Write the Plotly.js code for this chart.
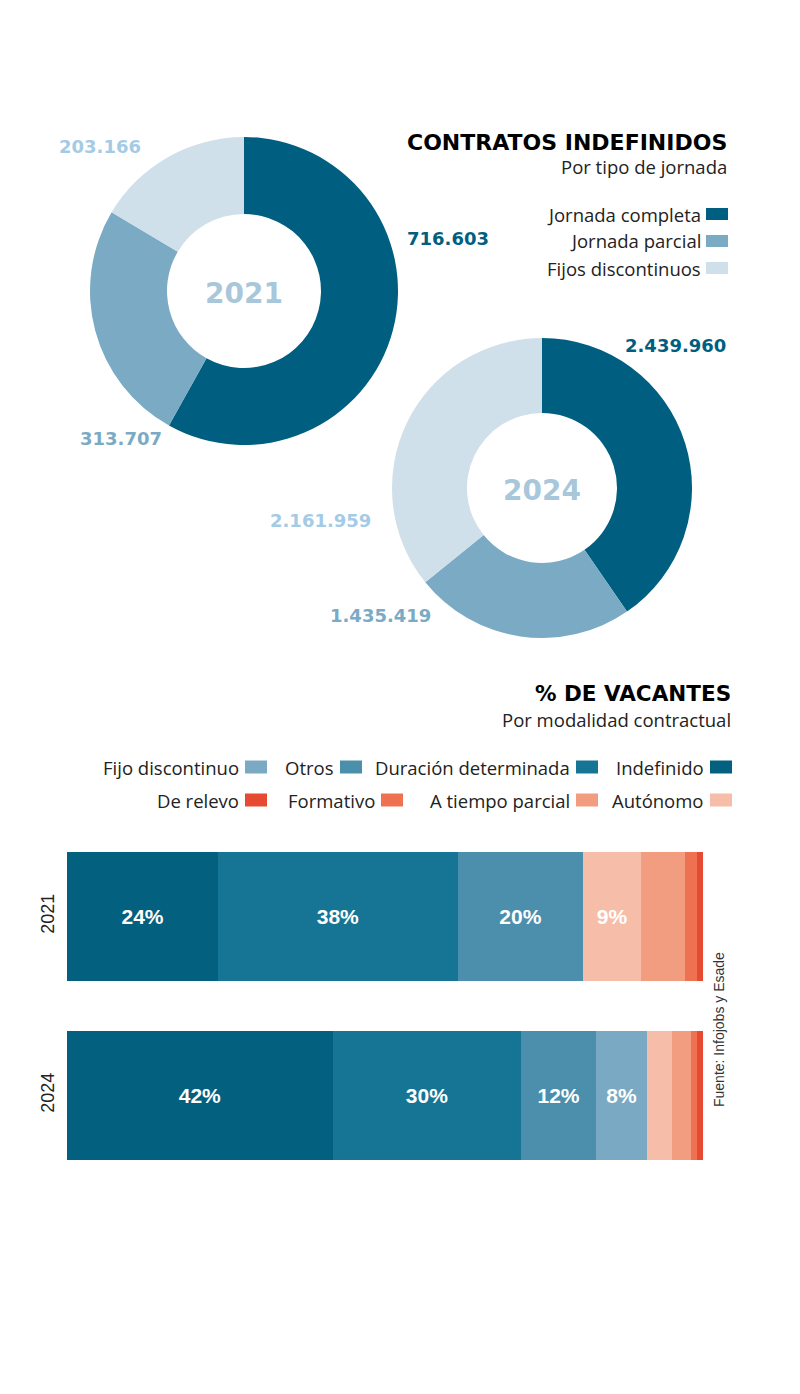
<!DOCTYPE html>
<html>
<head>
<meta charset="utf-8">
<script src="https://cdn.plot.ly/plotly-3.0.1.min.js"></script>
<style>html,body{margin:0;padding:0;background:#fff;}#chart{width:800px;height:1394px;}</style>
</head>
<body>
<div id="chart"></div>
<script>
// ---------- DATA ----------
const jornadaLabels = ['Jornada completa', 'Jornada parcial', 'Fijos discontinuos'];
const contratos2021 = [716603, 313707, 203166];
const contratos2024 = [2439960, 1435419, 2161959];

const years = ['2021', '2024'];
const modalidades = ['Indefinido', 'Duración determinada', 'Otros', 'Fijo discontinuo', 'Autónomo', 'A tiempo parcial', 'Formativo', 'De relevo'];
const pctIndefinido = [23.8, 41.8];
const pctDuracion = [37.6, 29.6];
const pctOtros = [19.8, 11.8];
const pctFijo = [0, 8.0];
const pctAutonomo = [9.0, 3.9];
const pctParcial = [6.9, 3.0];
const pctFormativo = [2.0, 0.9];
const pctRelevo = [0.9, 1.0];
const vacantes = [pctIndefinido, pctDuracion, pctOtros, pctFijo, pctAutonomo, pctParcial, pctFormativo, pctRelevo];

const legendRow1 = ['Fijo discontinuo', 'Otros', 'Duración determinada', 'Indefinido'];
const legendRow2 = ['De relevo', 'Formativo', 'A tiempo parcial', 'Autónomo'];

// ---------- STYLE ----------
const W = 800, H = 1394;
const px = x => x / W;
const py = y => 1 - y / H;
const jornadaColors = ['#005f80', '#7aaac4', '#cfe0ea'];
const labelColors = ['#005f80', '#7aaac4', '#a4cbe6'];
const modColors = {
  'Indefinido': '#03607f', 'Duración determinada': '#167594', 'Otros': '#4b8fad',
  'Fijo discontinuo': '#7aaac3', 'Autónomo': '#f6bea9', 'A tiempo parcial': '#f29c80',
  'Formativo': '#ee7252', 'De relevo': '#e64a33'
};
const boldFont = 'DejaVu Sans, sans-serif';
const textFont = 'Open Sans, sans-serif';
const textSize = 18.5;
const fmt = v => String(v).replace(/\B(?=(\d{3})+(?!\d))/g, '.');

// ---------- TRACES ----------
const traces = [];
function pie(values, year, dom) {
  return {
    type: 'pie', values: values, labels: jornadaLabels, sort: false,
    direction: 'clockwise', rotation: 0, hole: 0.5,
    marker: { colors: jornadaColors, line: { width: 0 } },
    textinfo: 'none', hoverinfo: 'none', showlegend: false,
    domain: dom,
    title: { text: year, position: 'middle center', font: { family: boldFont, size: 28, color: '#a9c7da', weight: 'bold' } }
  };
}
traces.push(pie(contratos2021, '2021', { x: [px(90), px(398)], y: [py(445), py(137)] }));
traces.push(pie(contratos2024, '2024', { x: [px(392), px(692)], y: [py(638), py(338)] }));

modalidades.forEach((m, i) => {
  const vals = vacantes[i];
  traces.push({
    type: 'bar', orientation: 'h', y: years, x: vals, name: m,
    marker: { color: modColors[m], line: { width: 0 } },
    text: vals.map(v => v >= 7.95 ? Math.round(v) + '%' : ''),
    textposition: 'inside', insidetextanchor: 'middle', constraintext: 'none',
    textfont: { family: 'Liberation Sans, Arial, sans-serif', size: 21, color: '#ffffff', weight: 'bold' },
    hoverinfo: 'none', showlegend: false, xaxis: 'x', yaxis: 'y'
  });
});

// ---------- ANNOTATIONS & SHAPES ----------
const annotations = [];
const shapes = [];
function txt(text, x, y, anchor, font) {
  annotations.push({ text: text, x: px(x), y: py(y), xref: 'paper', yref: 'paper', xanchor: anchor, yanchor: 'middle', showarrow: false, font: font });
}
// titles
txt('CONTRATOS INDEFINIDOS', 729, 143, 'right', { family: boldFont, size: 22, color: '#000', weight: 'bold' });
txt('Por tipo de jornada', 729, 167, 'right', { family: textFont, size: textSize, color: '#222' });
txt('% DE VACANTES', 733, 694, 'right', { family: boldFont, size: 21.5, color: '#000', weight: 'bold' });
txt('Por modalidad contractual', 733, 719, 'right', { family: textFont, size: textSize, color: '#222' });

// pie value labels
const pieLabelPos2021 = [[405, 239, 'left'], [78, 438, 'left'], [143, 146, 'right']];
const pieLabelPos2024 = [[728, 346, 'right'], [433, 615, 'right'], [373, 520, 'right']];
contratos2021.forEach((v, i) => txt(fmt(v), pieLabelPos2021[i][0], pieLabelPos2021[i][1], pieLabelPos2021[i][2], { family: boldFont, size: 18, color: labelColors[i], weight: 'bold' }));
contratos2024.forEach((v, i) => txt(fmt(v), pieLabelPos2024[i][0], pieLabelPos2024[i][1], pieLabelPos2024[i][2], { family: boldFont, size: 18, color: labelColors[i], weight: 'bold' }));

// pie legend
const pieLegendY = [214, 241, 268];
jornadaLabels.forEach((l, i) => {
  txt(l, 703, pieLegendY[i], 'right', { family: textFont, size: textSize, color: '#222' });
  shapes.push({ type: 'rect', xref: 'paper', yref: 'paper', x0: px(706), x1: px(728), y0: py(pieLegendY[i] + 6), y1: py(pieLegendY[i] - 6), fillcolor: jornadaColors[i], line: { width: 0 } });
});

// bar legend
const legendSwatchX = [[245, 340, 576, 710], [245, 381, 576, 710]];
[legendRow1, legendRow2].forEach((row, r) => {
  const y = r === 0 ? 767 : 800;
  row.forEach((l, i) => {
    const sx = legendSwatchX[r][i];
    txt(l, sx - 4, y, 'right', { family: textFont, size: textSize, color: '#222' });
    shapes.push({ type: 'rect', xref: 'paper', yref: 'paper', x0: px(sx), x1: px(sx + 22), y0: py(y + 6.5), y1: py(y - 6.5), fillcolor: modColors[l], line: { width: 0 } });
  });
});

// source
annotations.push({ text: 'Fuente: Infojobs y Esade', x: px(719), y: py(1030), xref: 'paper', yref: 'paper', xanchor: 'center', yanchor: 'middle', textangle: -90, showarrow: false, font: { family: 'Liberation Sans, Arial, sans-serif', size: 14, color: '#333' } });

const layout = {
  width: W, height: H,
  margin: { l: 0, r: 0, t: 0, b: 0 },
  paper_bgcolor: '#fff', plot_bgcolor: '#fff',
  barmode: 'stack', bargap: 0.28,
  showlegend: false,
  xaxis: { domain: [px(67), px(703)], range: [0, 100], visible: false, fixedrange: true },
  yaxis: {
    domain: [py(1185), py(827)], type: 'category', categoryarray: years, autorange: 'reversed',
    showline: false, showgrid: false, zeroline: false, ticks: '', tickangle: -90,
    ticklabelstandoff: 8,
    tickfont: { family: 'Liberation Sans, Arial, sans-serif', size: 18, color: '#222' }
  },
  annotations: annotations,
  shapes: shapes
};

Plotly.newPlot('chart', traces, layout, { staticPlot: true, displayModeBar: false });
</script>
</body>
</html>
